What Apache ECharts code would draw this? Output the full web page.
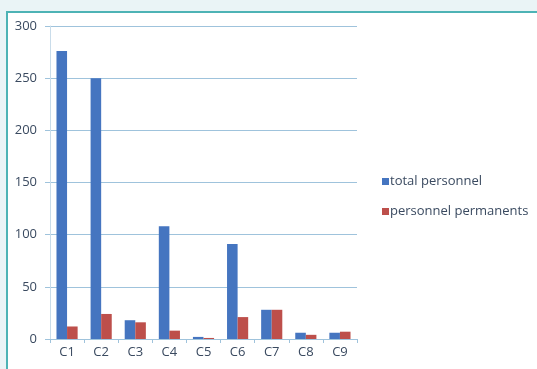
<!DOCTYPE html>
<html>
<head>
<meta charset="utf-8">
<script src="https://cdn.jsdelivr.net/npm/echarts@6/dist/echarts.min.js"></script>
<style>
  html, body { margin: 0; padding: 0; background: #eaf4f6; }
  #frame {
    position: absolute; left: 6px; top: 11px; width: 531px; height: 358px;
    background: #ffffff; border-left: 2px solid #4db3b5; border-top: 2px solid #4db3b5;
    box-sizing: border-box;
  }
  #chart { position: absolute; left: 0; top: 0; width: 537px; height: 369px; }
</style>
</head>
<body>
<div id="frame"></div>
<div id="chart"></div>
<script>
// Staff headcount per unit
const categories = ['C1', 'C2', 'C3', 'C4', 'C5', 'C6', 'C7', 'C8', 'C9'];
const totalPersonnel = [276, 250, 18, 108, 2, 91, 28, 6, 6];
const permanentPersonnel = [12, 24, 16, 8, 1, 21, 28, 4, 7];
const seriesNames = ['total personnel', 'personnel permanents'];

const chart = echarts.init(document.getElementById('chart'), null, { renderer: 'canvas' });
const font = '"Open Sans", Lato, sans-serif';
const textColor = '#3a4a60';

chart.setOption({
  backgroundColor: 'transparent',
  animation: false,
  textStyle: { fontFamily: font },
  grid: { left: 50, right: 180, top: 26, bottom: 30, containLabel: false },
  legend: {
    orient: 'vertical',
    left: 377,
    top: 170,
    itemWidth: 7,
    itemHeight: 7,
    itemGap: 17,
    icon: 'rect',
    textStyle: { fontFamily: font, fontSize: 13, color: textColor, padding: [0, 0, 0, -4] },
    data: seriesNames
  },
  xAxis: {
    type: 'category',
    data: categories,
    axisLine: { lineStyle: { color: '#9fc3dc', width: 1 } },
    axisTick: { show: true, length: 4, lineStyle: { color: '#9fc3dc' } },
    axisLabel: { fontFamily: font, fontSize: 13, color: textColor, margin: 7 }
  },
  yAxis: {
    type: 'value',
    min: 0,
    max: 300,
    interval: 50,
    axisLine: { show: true, lineStyle: { color: '#c9dcea', width: 1 } },
    axisTick: { show: true, length: 5, lineStyle: { color: '#9fc3dc' } },
    axisLabel: { fontFamily: font, fontSize: 13, color: textColor, margin: 13 },
    splitLine: { lineStyle: { color: '#9fc3dc', width: 1 } }
  },
  series: [
    {
      name: seriesNames[0],
      type: 'bar',
      data: totalPersonnel,
      barGap: '0%',
      barCategoryGap: '38%',
      itemStyle: { color: '#4575c0' }
    },
    {
      name: seriesNames[1],
      type: 'bar',
      data: permanentPersonnel,
      itemStyle: { color: '#bd4f4b' }
    }
  ]
});
</script>
</body>
</html>
